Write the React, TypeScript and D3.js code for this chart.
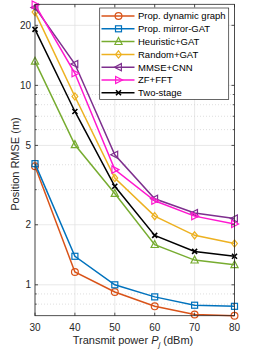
import React from "react";
import * as d3 from "d3";

const xValues = [30, 40, 50, 60, 70, 80];
const seriesNames = [
  "Prop. dynamic graph",
  "Prop. mirror-GAT",
  "Heuristic+GAT",
  "Random+GAT",
  "MMSE+CNN",
  "ZF+FFT",
  "Two-stage",
];
const dynamicGraph = [3.93, 1.16, 0.92, 0.78, 0.71, 0.7];
const mirrorGAT = [4.05, 1.39, 1.0, 0.87, 0.79, 0.78];
const heuristicGAT = [13.2, 5.04, 2.87, 1.59, 1.33, 1.26];
const randomGAT = [23.3, 8.8, 3.43, 2.21, 1.77, 1.61];
const mmseCNN = [24.6, 12.8, 4.49, 2.7, 2.29, 2.15];
const zfFFT = [25.4, 11.5, 3.78, 2.64, 2.21, 2.02];
const twoStage = [19.1, 7.4, 3.12, 1.77, 1.47, 1.39];
const yTicks = [1, 2, 5, 10, 20];
const yMinor = [0.8, 0.9, 3, 4, 6, 7, 8, 9];

const colors = ["#D95319", "#0072BD", "#77AC30", "#EDB120", "#7E2F8E", "#FF17D0", "#000000"];
const markers = ["circle", "square", "triUp", "diamond", "triLeft", "triRight", "cross"];
const allSeries = [dynamicGraph, mirrorGAT, heuristicGAT, randomGAT, mmseCNN, zfFFT, twoStage];

const L = 35, R = 234.5, T = 4.3, B = 315.7;

function Marker({ type, x, y, color }: { type: string; x: number; y: number; color: string }) {
  const sw = 1.2;
  const s = 3.6;
  switch (type) {
    case "circle":
      return <circle cx={x} cy={y} r={3.4} fill="none" stroke={color} strokeWidth={sw} />;
    case "square":
      return <rect x={x - 3} y={y - 3} width={6} height={6} fill="none" stroke={color} strokeWidth={sw} />;
    case "triUp":
      return <path d={`M${x},${y - s - 0.5}L${x + s},${y + s * 0.8}L${x - s},${y + s * 0.8}Z`} fill="none" stroke={color} strokeWidth={sw} />;
    case "diamond":
      return <path d={`M${x},${y - s}L${x + s * 0.8},${y}L${x},${y + s}L${x - s * 0.8},${y}Z`} fill="none" stroke={color} strokeWidth={sw} />;
    case "triLeft":
      return <path d={`M${x - s - 0.5},${y}L${x + s * 0.8},${y - s}L${x + s * 0.8},${y + s}Z`} fill="none" stroke={color} strokeWidth={sw} />;
    case "triRight":
      return <path d={`M${x + s + 0.5},${y}L${x - s * 0.8},${y - s}L${x - s * 0.8},${y + s}Z`} fill="none" stroke={color} strokeWidth={sw} />;
    case "cross":
      return <path d={`M${x - 2.5},${y - 2.5}L${x + 2.5},${y + 2.5}M${x - 2.5},${y + 2.5}L${x + 2.5},${y - 2.5}`} fill="none" stroke={color} strokeWidth={1.6} />;
  }
  return null;
}

export default function App() {
  const x = d3.scaleLinear().domain([30, 80]).range([L, R]);
  const y = d3.scaleLog().domain([0.7, 25.5]).range([B, T]);
  const line = d3
    .line<number>()
    .x((_, i) => x(xValues[i]))
    .y((d) => y(d));
  const font = "Liberation Sans, Arial, Helvetica, sans-serif";
  const axisColor = "#262626";
  const legX = 99.7, legY = 8, legW = 129, legH = 91.5;
  const rowH = 12.8;

  return (
    <svg width={266} height={349} style={{ position: "absolute", left: 0, top: 0 }} fontFamily={font}>
      <rect x={0} y={0} width={266} height={349} fill="#fff" />
      {/* grid */}
      {xValues.map((v) => (
        <line key={"gx" + v} x1={x(v)} x2={x(v)} y1={T} y2={B} stroke="#dfdfdf" strokeWidth={0.7} />
      ))}
      {yTicks.map((v) => (
        <line key={"gy" + v} x1={L} x2={R} y1={y(v)} y2={y(v)} stroke="#dfdfdf" strokeWidth={0.7} />
      ))}
      {yMinor.map((v) => (
        <line key={"gm" + v} x1={L} x2={R} y1={y(v)} y2={y(v)} stroke="#d0d0d0" strokeWidth={0.7} strokeDasharray="1,2" />
      ))}
      {/* series */}
      {allSeries.map((s, k) => (
        <g key={"s" + k}>
          <path d={line(s) || ""} fill="none" stroke={colors[k]} strokeWidth={1.5} />
          {s.map((v, i) => (
            <Marker key={i} type={markers[k]} x={x(xValues[i])} y={y(v)} color={colors[k]} />
          ))}
        </g>
      ))}
      {/* axes box */}
      <rect x={L} y={T} width={R - L} height={B - T} fill="none" stroke={axisColor} strokeWidth={0.8} />
      {xValues.map((v) => (
        <g key={"xt" + v}>
          <line x1={x(v)} x2={x(v)} y1={B} y2={B - 3} stroke={axisColor} strokeWidth={0.8} />
          <line x1={x(v)} x2={x(v)} y1={T} y2={T + 3} stroke={axisColor} strokeWidth={0.8} />
          <text x={x(v)} y={330.5} textAnchor="middle" fontSize={10} fill="#262626">
            {v}
          </text>
        </g>
      ))}
      {yTicks.map((v) => (
        <g key={"yt" + v}>
          <line x1={L} x2={L + 3} y1={y(v)} y2={y(v)} stroke={axisColor} strokeWidth={0.8} />
          <line x1={R} x2={R - 3} y1={y(v)} y2={y(v)} stroke={axisColor} strokeWidth={0.8} />
          <text x={31} y={y(v) + 3.6} textAnchor="end" fontSize={10} fill="#262626">
            {v}
          </text>
        </g>
      ))}
      {yMinor.map((v) => (
        <g key={"ym" + v}>
          <line x1={L} x2={L + 1.8} y1={y(v)} y2={y(v)} stroke={axisColor} strokeWidth={0.7} />
          <line x1={R} x2={R - 1.8} y1={y(v)} y2={y(v)} stroke={axisColor} strokeWidth={0.7} />
        </g>
      ))}
      {/* axis labels */}
      <text x={133} y={343.5} textAnchor="middle" fontSize={11} fill="#262626">
        Transmit power <tspan fontStyle="italic">P</tspan>
        <tspan fontSize={8} dy={3} fontStyle="italic">j</tspan>
        <tspan dy={-3}> (dBm)</tspan>
      </text>
      <text transform="translate(19,164) rotate(-90)" textAnchor="middle" fontSize={11} fill="#262626">
        Position RMSE (m)
      </text>
      {/* legend */}
      <rect x={legX} y={legY} width={legW} height={legH} fill="#fff" stroke={axisColor} strokeWidth={0.7} />
      {seriesNames.map((name, k) => {
        const ry = 16 + k * rowH;
        return (
          <g key={"lg" + k}>
            <line x1={101.5} x2={134.5} y1={ry} y2={ry} stroke={colors[k]} strokeWidth={1.5} />
            <Marker type={markers[k]} x={118.5} y={ry} color={colors[k]} />
            <text x={138} y={ry + 3.4} fontSize={9.5} fill="#000">
              {name}
            </text>
          </g>
        );
      })}
    </svg>
  );
}
